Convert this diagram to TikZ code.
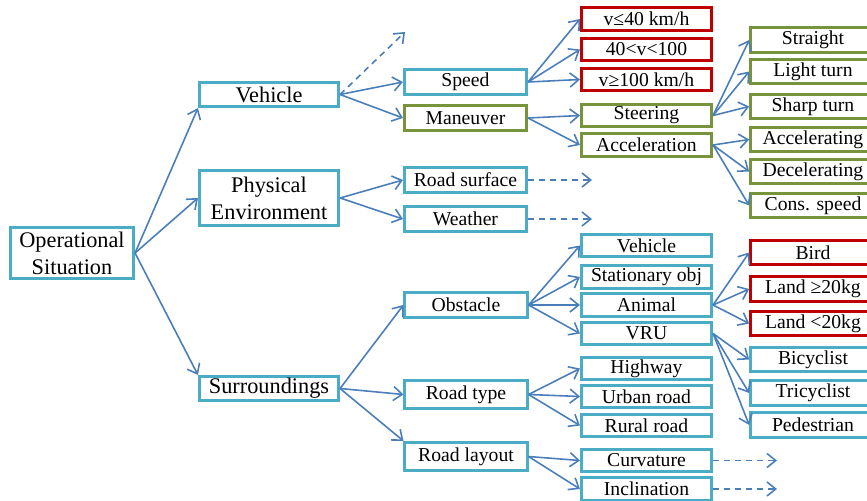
\documentclass[tikz,border=0pt]{standalone}
\usepackage{fontspec}
\setmainfont{Liberation Serif}
\usepackage{xcolor}
\definecolor{boxblue}{RGB}{75,172,198}
\definecolor{boxgreen}{RGB}{119,147,60}
\definecolor{boxred}{RGB}{192,0,0}
\definecolor{linkblue}{RGB}{74,126,187}
\usepackage{tikz}
\usetikzlibrary{arrows.meta}
\tikzstyle{box} = [rectangle, draw=boxblue, line width=1.5pt, fill=white, inner sep=0pt, align=center, font=\fontsize{11.2}{13}\selectfont]
\tikzstyle{lvlzero} = [box, minimum width=2.47cm, minimum height=1.03cm, font=\fontsize{12.7}{15.3}\selectfont]
\tikzstyle{lvlone} = [box, minimum width=2.79cm, minimum height=0.49cm, font=\fontsize{12.7}{15.3}\selectfont]
\tikzstyle{lvltwo} = [box, minimum width=2.45cm, minimum height=0.51cm]
\tikzstyle{lvlthree} = [box, minimum width=2.61cm, minimum height=0.45cm]
\tikzstyle{lvlfour} = [box, minimum width=2.5cm, minimum height=0.49cm]
\tikzstyle{greenbox} = [draw=boxgreen]
\tikzstyle{redbox} = [draw=boxred]
\tikzstyle{link} = [draw=linkblue, line width=0.9pt, -{Straight Barb[length=5pt,width=8pt]}]
\tikzstyle{more} = [link, dash pattern=on 3.5pt off 2.8pt]

\begin{document}
\begin{tikzpicture}[x=0.02cm, y=-0.02cm]
    \useasboundingbox (0,0) rectangle (867,501);

    % root and first level
    \node[lvlzero] (opsit) at (72,253) {Operational\\Situation};
    \node[lvlone] (vehicle) at (269,94.5) {Vehicle};
    \node[lvlone, minimum height=1.11cm] (physenv) at (269,198) {Physical\\Environment};
    \node[lvlone] (surround) at (269,388.5) {Surroundings};

    % second level
    \node[lvltwo] (speed) at (465.5,82) {Speed};
    \node[lvltwo, greenbox] (maneuver) at (465.5,118) {Maneuver};
    \node[lvltwo] (roadsurf) at (465.5,180) {Road surface};
    \node[lvltwo] (weather) at (465.5,219) {Weather};
    \node[lvltwo] (obstacle) at (466,305) {Obstacle};
    \node[lvltwo, minimum height=0.57cm] (roadtype) at (466,394.5) {Road type};
    \node[lvltwo, minimum height=0.57cm] (roadlayout) at (466,456.5) {Road layout};

    % third level
    \node[lvlthree, redbox] (vlow) at (646.5,19) {v≤40 km/h};
    \node[lvlthree, redbox] (vmid) at (646.5,49.5) {40<v<100};
    \node[lvlthree, redbox] (vhigh) at (646.5,79.5) {v≥100 km/h};
    \node[lvlthree, greenbox] (steering) at (646.5,115.5) {Steering};
    \node[lvlthree, greenbox] (accel) at (646.5,145) {Acceleration};
    \node[lvlthree] (othveh) at (646.5,245.5) {Vehicle};
    \node[lvlthree] (statobj) at (646.5,277) {Stationary obj};
    \node[lvlthree] (animal) at (646.5,305) {Animal};
    \node[lvlthree] (vru) at (646.5,333.5) {VRU};
    \node[lvlthree] (highway) at (646.5,368.5) {Highway};
    \node[lvlthree] (urban) at (646.5,396.5) {Urban road};
    \node[lvlthree] (rural) at (646.5,425.5) {Rural road};
    \node[lvlthree] (curvature) at (646.5,460.5) {Curvature};
    \node[lvlthree] (inclination) at (646.5,489) {Inclination};

    % fourth level
    \node[lvlfour, greenbox] (straight) at (813,40) {Straight};
    \node[lvlfour, greenbox] (lightturn) at (813,71.5) {Light turn};
    \node[lvlfour, greenbox] (sharpturn) at (813,106.5) {Sharp turn};
    \node[lvlfour, greenbox] (accing) at (813,139.5) {Accelerating};
    \node[lvlfour, greenbox] (decing) at (813,171.5) {Decelerating};
    \node[lvlfour, greenbox] (consspeed) at (813,205.5) {Cons. speed};
    \node[lvlfour, redbox] (bird) at (813,252.5) {Bird};
    \node[lvlfour, redbox] (landbig) at (813,289) {Land ≥20kg};
    \node[lvlfour, redbox] (landsmall) at (813,323.5) {Land <20kg};
    \node[lvlfour] (bicyclist) at (813,359.5) {Bicyclist};
    \node[lvlfour] (tricyclist) at (813,393) {Tricyclist};
    \node[lvlfour] (pedestrian) at (813,425) {Pedestrian};

    % loose ends
    \coordinate (vehmore) at (405,32);
    \coordinate (surfmore) at (592,180);
    \coordinate (weathmore) at (592,219);
    \coordinate (curvmore) at (777,460.5);
    \coordinate (inclmore) at (777,489);

    \draw[link] (opsit.east) -- (vehicle.south west);
    \draw[link] (opsit.east) -- (physenv.west);
    \draw[link] (opsit.east) -- (surround.north west);

    \draw[link] (vehicle.east) -- (speed.west);
    \draw[link] (vehicle.east) -- (maneuver.west);
    \draw[more] (vehicle.east) -- (vehmore);
    \draw[link] (physenv.east) -- (roadsurf.west);
    \draw[link] (physenv.east) -- (weather.west);
    \draw[link] (surround.east) -- (obstacle.west);
    \draw[link] (surround.east) -- (roadtype.west);
    \draw[link] (surround.east) -- (roadlayout.north west);

    \draw[link] (speed.east) -- (vlow.west);
    \draw[link] (speed.east) -- (vmid.west);
    \draw[link] (speed.east) -- (vhigh.west);
    \draw[link] (maneuver.east) -- (steering.west);
    \draw[link] (maneuver.east) -- (accel.west);
    \draw[more] (roadsurf.east) -- (surfmore);
    \draw[more] (weather.east) -- (weathmore);
    \draw[link] (obstacle.east) -- (othveh.west);
    \draw[link] (obstacle.east) -- (statobj.west);
    \draw[link] (obstacle.east) -- (animal.west);
    \draw[link] (obstacle.east) -- (vru.west);
    \draw[link] (roadtype.east) -- (highway.west);
    \draw[link] (roadtype.east) -- (urban.west);
    \draw[link] (roadtype.east) -- (rural.west);
    \draw[link] (roadlayout.east) -- (curvature.west);
    \draw[link] (roadlayout.east) -- (inclination.west);

    \draw[link] (steering.east) -- (straight.west);
    \draw[link] (steering.east) -- (lightturn.west);
    \draw[link] (steering.east) -- (sharpturn.west);
    \draw[link] (accel.east) -- (accing.west);
    \draw[link] (accel.east) -- (decing.west);
    \draw[link] (accel.east) -- (consspeed.west);
    \draw[link] (animal.east) -- (bird.west);
    \draw[link] (animal.east) -- (landbig.west);
    \draw[link] (animal.east) -- (landsmall.west);
    \draw[link] (vru.east) -- (bicyclist.west);
    \draw[link] (vru.east) -- (tricyclist.west);
    \draw[link] (vru.east) -- (pedestrian.west);
    \draw[more] (curvature.east) -- (curvmore);
    \draw[more] (inclination.east) -- (inclmore);
\end{tikzpicture}
\end{document}
